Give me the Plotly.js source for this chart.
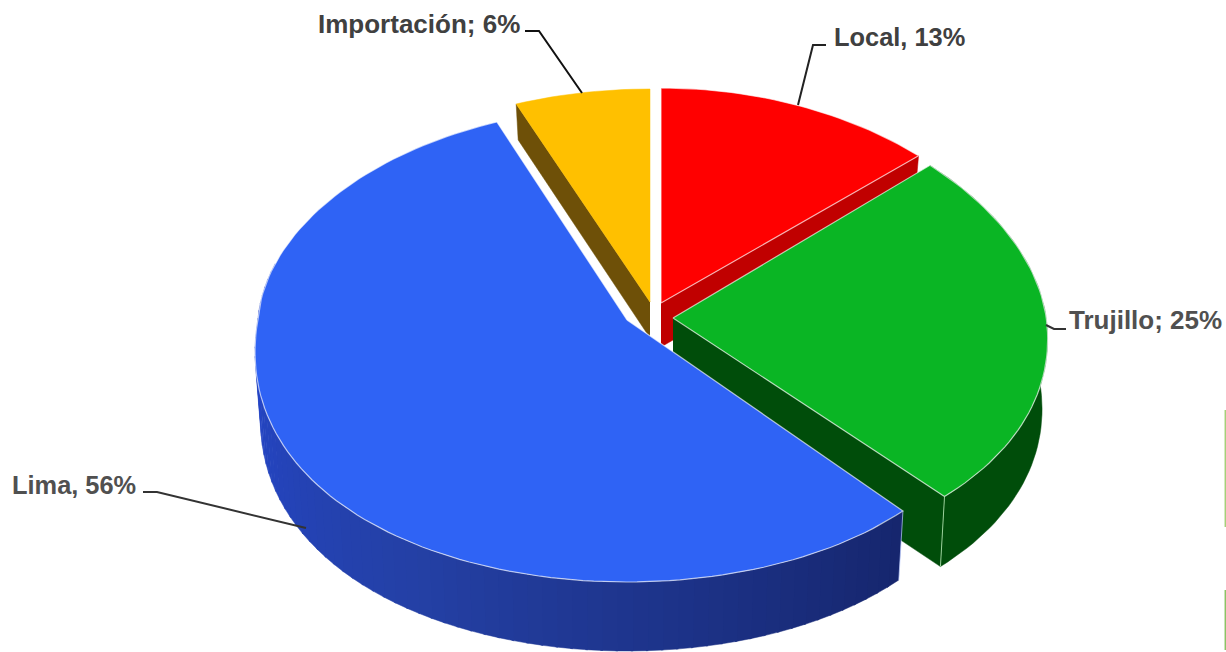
<!DOCTYPE html>
<html><head><meta charset="utf-8">
<script src="https://cdn.plot.ly/plotly-3.0.1.min.js"></script>
<style>html,body{margin:0;padding:0;background:#fff}#c{width:1226px;height:652px}</style>
</head><body><div id="c"></div>
<script>
// Data
const categories = ["Local", "Trujillo", "Lima", "Importación"];
const values = [13, 25, 56, 6];
const separators = [", ", "; ", ", ", "; "];
const topColors = ["#ff0000", "#0ab524", "#2f63f5", "#ffc000"];
const wallColors = ["#c00000", "#004d0a", "#2448c8", "#6e5008"];

// Pseudo-3D projection settings per slice (pull-out centre, radii, depth)
const apexX = [661, 673, 627, 650];
const apexY = [303, 318, 320, 302];
const ryBack = [215, 223, 213, 213];
const ryFront = [262, 245, 262, 262];
const rxBase = [1, 1.006, 0.995, 1.03];
const rxTaper = [0.018, 0.03, -0.007, 0];
const depth = [44, 70, 69, 36];
const drawOrder = [0, 3, 1, 2];

const rad = d => d * Math.PI / 180;
function rxOf(i, v) {
  const r = v > 0 ? 371 - 19.4 * v : 371 - 44 * v;
  return r * rxBase[i] * (1 - rxTaper[i] * Math.abs(v));
}
function project(i, deg, down) {
  const u = Math.sin(rad(deg)), v = Math.cos(rad(deg));
  const x = rxOf(i, v) * u, y = -v * (v > 0 ? ryBack[i] : ryFront[i]);
  const s = down ? 0.985 : 1;
  return [apexX[i] + x * s, apexY[i] + y + (down ? depth[i] : 0)];
}
function arc(i, a, b, down) {
  const n = Math.max(2, Math.ceil(Math.abs(b - a) / 1.5)), p = [];
  for (let k = 0; k <= n; k++) p.push(project(i, a + (b - a) * k / n, down));
  return p;
}
function poly(pts, fill, line, name) {
  return { type: "scatter", mode: "lines", x: pts.map(p => p[0]), y: pts.map(p => p[1]),
    fill: "toself", fillcolor: fill, hoverinfo: "skip", showlegend: false, name: name || "",
    line: line || { color: fill, width: 0.5 } };
}
function lineTrace(pts, color, w) {
  return { type: "scatter", mode: "lines", x: pts.map(p => p[0]), y: pts.map(p => p[1]),
    hoverinfo: "skip", showlegend: false, line: { color: color, width: w || 1 } };
}
function mix(a, b, f) {
  return "rgb(" + a.map((c, i) => Math.round(c + (b[i] - c) * f)).join(",") + ")";
}

// cumulative angles from the values
const total = values.reduce((a, b) => a + b, 0);
const starts = [], ends = [];
values.reduce((acc, val, i) => {
  starts[i] = acc / total * 360; ends[i] = (acc + val) / total * 360; return acc + val;
}, 0);

const traces = [];
const apex = (i, down) => [apexX[i], apexY[i] + (down ? depth[i] : 0)];
const LIMA = 2;
drawOrder.forEach(i => {
  const a = starts[i], b = ends[i];
  // radial walls
  const rStart = [apex(i, false), project(i, a, false), project(i, a, true), apex(i, true)];
  const rEnd = [apex(i, false), project(i, b, false), project(i, b, true), apex(i, true)];
  if (i === 0 || i === 1) traces.push(poly(rEnd, wallColors[i]));
  if (i === 3) traces.push(poly(rStart, wallColors[i]));
  // outer wall
  if (i === LIMA) {
    const stops = [[36, 71, 210], [36, 64, 165], [22, 38, 110]];
    const n = 70, aa = a, bb = 285;
    for (let k = 0; k < n; k++) {
      const d0 = aa + (bb - aa) * k / n, d1 = aa + (bb - aa) * (k + 1.15) / n;
      const f = k / (n - 1); // 0 at the right end, 1 at the left
      const col = f < 0.5 ? mix(stops[2], stops[1], f * 2) : mix(stops[1], stops[0], (f - 0.5) * 2);
      const pts = [project(i, d0, false), project(i, d1, false), project(i, d1, true), project(i, d0, true)];
      traces.push(poly(pts, col));
    }
  } else if (i === 1) {
    const pts = arc(i, a, b, false).concat(arc(i, b, a, true));
    traces.push(poly(pts, wallColors[i]));
  }
  // top face
  const top = [apex(i, false)].concat(arc(i, a, b, false)).concat([apex(i, false)]);
  const edge = i === 3 ? { color: topColors[i], width: 0.5 } : { color: "rgba(255,255,255,0.65)", width: 1.2 };
  traces.push(poly(top, topColors[i], edge, categories[i]));
  // light vertical corner
  if (i === 1) traces.push(lineTrace([project(i, b, false), project(i, b, true)], "rgba(190,240,190,0.8)", 1));
  if (i === LIMA) traces.push(lineTrace([project(i, a, false), project(i, a, true)], "rgba(190,205,255,0.7)", 1));
});

const labelPos = [
  { x: 832, y: 37, size: 25.4, color: "#404040" },
  { x: 1067, y: 320, size: 26, color: "#505050" },
  { x: 10, y: 485, size: 25.4, color: "#505050" },
  { x: 316, y: 24, size: 26, color: "#404040" }
];
const annotations = categories.map((c, i) => ({
  xref: "x", yref: "y", x: labelPos[i].x, y: labelPos[i].y, xanchor: "left", yanchor: "middle",
  showarrow: false, text: "<b>" + c + separators[i] + values[i] + "%</b>",
  font: { family: "Liberation Sans, Arial, sans-serif", size: labelPos[i].size, color: labelPos[i].color }
}));
const leader = (path, color) => ({ type: "path", xref: "x", yref: "y", path: path, line: { color: color, width: 2 } });
const shapes = [
  leader("M 826 45 L 813 45 L 798 105", "#222"),
  leader("M 1066 329 L 1054 329 L 1046 325", "#333"),
  leader("M 143 492 L 157 492 L 306 528", "#333"),
  leader("M 525 31 L 539 31 L 582 93", "#111"),
  { type: "line", xref: "x", yref: "y", x0: 1225.3, x1: 1225.3, y0: 410, y1: 527, line: { color: "#a5cf7a", width: 1.5 } },
  { type: "line", xref: "x", yref: "y", x0: 1225.3, x1: 1225.3, y0: 590, y1: 650, line: { color: "#8cc265", width: 1.5 } }
];

Plotly.newPlot("c", traces, {
  width: 1226, height: 652, margin: { l: 0, r: 0, t: 0, b: 0 },
  paper_bgcolor: "#fff", plot_bgcolor: "#fff", showlegend: false,
  xaxis: { range: [0, 1226], visible: false, fixedrange: true },
  yaxis: { range: [652, 0], visible: false, fixedrange: true },
  annotations: annotations, shapes: shapes, hovermode: false
}, { displayModeBar: false, staticPlot: true });
</script></body></html>
